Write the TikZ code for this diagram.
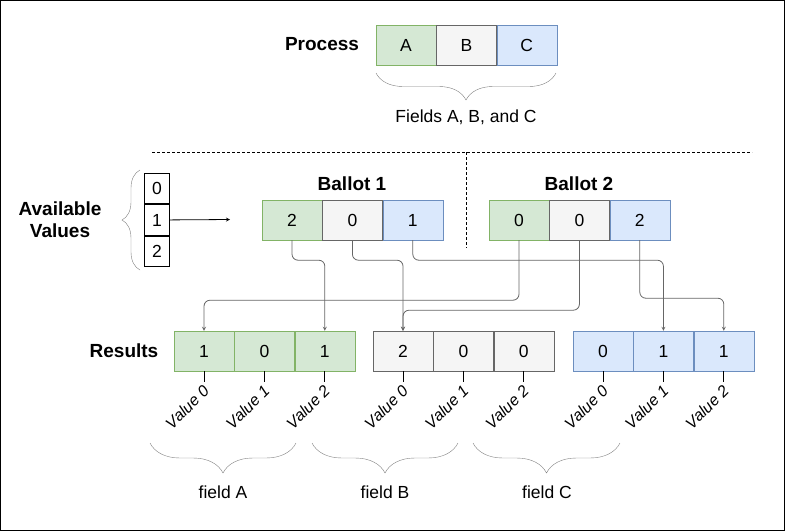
\documentclass[tikz,border=0pt]{standalone}
\usepackage{fontspec}
\setmainfont{Liberation Sans}
\usetikzlibrary{positioning,decorations.pathreplacing,calc}
\definecolor{grnfill}{HTML}{D5E8D4}
\definecolor{grnline}{HTML}{82B366}
\definecolor{gryfill}{HTML}{F5F5F5}
\definecolor{gryline}{HTML}{666666}
\definecolor{blufill}{HTML}{DAE8FC}
\definecolor{bluline}{HTML}{6C8EBF}
\definecolor{bracegray}{HTML}{808080}

\begin{document}
\begin{tikzpicture}
[x=1pt,y=-1pt,>=stealth,
	cell/.style={draw,minimum width=60pt,minimum height=40pt,inner sep=0pt,
	font=\fontsize{17.5}{20}\selectfont},
	cellA/.style={cell,fill=grnfill,draw=grnline},
	cellB/.style={cell,fill=gryfill,draw=gryline},
	cellC/.style={cell,fill=blufill,draw=bluline},
	valcell/.style={draw,thick,minimum width=25pt,minimum height=30.7pt,
	inner sep=0pt,font=\fontsize{17.5}{20}\selectfont},
	title/.style={font=\bfseries\fontsize{19}{22}\selectfont,align=center},
	plain/.style={font=\fontsize{17.5}{20}\selectfont},
	vlabel/.style={font=\itshape\fontsize{16}{18}\selectfont,anchor=east,
	rotate=45,inner sep=1pt},
	link/.style={->,draw=gryline,thick,rounded corners=6pt},
	curly/.style={draw=bracegray,decorate,
	decoration={brace,mirror,amplitude=#1}},
	sep/.style={thick,dash pattern=on 2.5pt off 2.5pt}]
\useasboundingbox (0,0) rectangle (785,531);
\draw[thick] (0.5,0.5) rectangle (784.5,530.5);

% process
\node[cellA] (pA) at (406,45) {A};
\node[cellB,right=0pt of pA] (pB) {B};
\node[cellC,right=0pt of pB] (pC) {C};
\node[title] (proc) at (322,44) {Process};
\draw[curly=27] (376,73) -- (556,73);
\node[plain] (fields) at (466,117) {Fields A, B, and C};

\draw[sep] (152,152) -- (752,152);
\draw[sep] (466,152) -- (466,248);

% available values
\node[valcell] (v0) at (157,188.5) {0};
\node[valcell,below=0pt of v0] (v1) {1};
\node[valcell,below=0pt of v1] (v2) {2};
\node[title] (avail) at (60,220) {Available\\Values};
\draw[curly=18] (140,170) -- (140,270);
\coordinate (vend) at (230,219.5);
\draw[->,thick] (v1) -- (vend);

% ballots
\node[cellA] (b1a) at (292,220) {2};
\node[cellB,right=0pt of b1a] (b1b) {0};
\node[cellC,right=0pt of b1b] (b1c) {1};
\node[title] (ball1) at (352,184) {Ballot 1};
\node[cellA] (b2a) at (519,220) {0};
\node[cellB,right=0pt of b2a] (b2b) {0};
\node[cellC,right=0pt of b2b] (b2c) {2};
\node[title] (ball2) at (579,184) {Ballot 2};

% results
\node[title] (res) at (124,351) {Results};
\node[cellA] (rA0) at (204,351) {1};
\node[cellA,right=0pt of rA0] (rA1) {0};
\node[cellA,right=0pt of rA1] (rA2) {1};
\node[cellB] (rB0) at (403,351) {2};
\node[cellB,right=0pt of rB0] (rB1) {0};
\node[cellB,right=0pt of rB1] (rB2) {0};
\node[cellC] (rC0) at (603,351) {0};
\node[cellC,right=0pt of rC0] (rC1) {1};
\node[cellC,right=0pt of rC1] (rC2) {1};

\foreach \f in {A,B,C}{
	\foreach \i in {0,1,2}{
		\draw[thick] (r\f\i.south) -- ++(0,11) coordinate (t\f\i);
		\node[vlabel] at ($(t\f\i)+(3,5)$) {Value \i};
	}
}

\draw[link] (b1a.south) -- ++(0,20) -| (rA2.north);
\draw[link] (b1b.south) -- ++(0,20) -| (rB0.north);
\draw[link] (b1c.south) -- ++(0,20) -| (rC1.north);
\draw[link] (b2a.south) -- ++(0,60) -| (rA0.north);
\draw[link] (b2b.south) -- ++(0,70) -| (rB0.north);
\draw[link] (b2c.south) -- ++(0,58) -| (rC2.north);

% fields
\draw[curly=30] (150,443) -- (296,443);
\draw[curly=30] (312,443) -- (458,443);
\draw[curly=30] (473,443) -- (620,443);
\node[plain] (fA) at (223,492) {field A};
\node[plain] (fB) at (385,492) {field B};
\node[plain] (fC) at (547,492) {field C};
\end{tikzpicture}
\end{document}
